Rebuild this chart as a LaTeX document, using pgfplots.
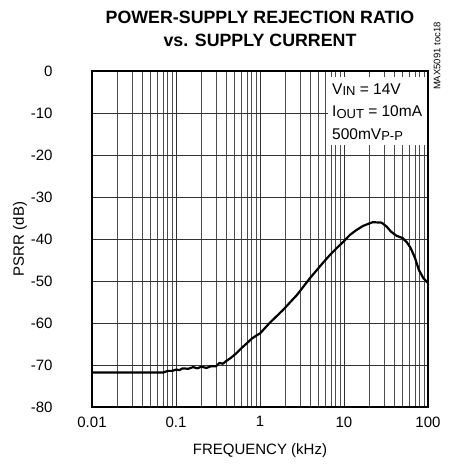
\documentclass[border=0pt]{standalone}
\usepackage{pgfplots}
\pgfplotsset{compat=1.18}
\usepackage{fontspec}
\setmainfont{Liberation Sans}
\begin{document}
\begin{tikzpicture}[x=1pt,y=1pt]
\useasboundingbox (-92,-63) rectangle (356,407);
\begin{axis}[
    at={(0,0)}, anchor=south west,
    scale only axis,
    width=336pt, height=336pt,
    xmode=log,
    xmin=0.01, xmax=100,
    ymin=-80, ymax=0,
    xtick={0.01,0.1,1,10,100},
    xticklabels={0.01,0.1,1,10,100},
    ytick={0,-10,-20,-30,-40,-50,-60,-70,-80},
    yticklabels={0,-10,-20,-30,-40,-50,-60,-70,-80},
    major tick length=0pt, minor tick length=0pt,
    grid=both,
    major grid style={black!80, line width=0.9pt},
    minor grid style={black!70, line width=0.9pt},
    axis line style={line width=2pt},
    tick label style={font=\fontsize{15}{18}\selectfont},
    y tick label style={xshift=-36pt},
    x tick label style={yshift=-6pt},
    xlabel={FREQUENCY (kHz)},
    ylabel={PSRR (dB)},
    every axis x label/.style={at={(rel axis cs:0.5,-0.131)}, anchor=center, font=\fontsize{15}{18}\selectfont},
    every axis y label/.style={at={(rel axis cs:-0.214,0.5)}, rotate=90, anchor=center, font=\fontsize{15}{18}\selectfont},
    title={POWER-SUPPLY REJECTION RATIO\\vs. SUPPLY CURRENT},
    every axis title/.style={at={(rel axis cs:0.5,1.1265)}, anchor=center, align=center, font=\bfseries\fontsize{17.8}{23}\selectfont},
    clip=false,
]
\fill[white] (axis cs:6.4,-1.5) rectangle (axis cs:100,-17.6);
\draw[black, line width=2pt] (axis cs:100,0) -- (axis cs:100,-80);
\addplot[black, line width=2.2pt, line join=round] coordinates {
(0.01,-71.8) (0.07,-71.8) (0.08,-71.4) (0.09,-71.4) (0.1,-71.1)
(0.11,-71.2) (0.12,-70.8) (0.14,-70.9) (0.16,-70.5) (0.18,-70.8) (0.2,-70.4)
(0.23,-70.7) (0.26,-70.3) (0.3,-70.3) (0.33,-69.5) (0.36,-69.7)
(0.4,-69.0) (0.45,-68.3) (0.53,-67.1) (0.6,-66.0) (0.7,-64.8)
(0.8,-63.7) (0.92,-62.9) (1.0,-62.5) (1.3,-60) (1.5,-58.8)
(1.88,-56.9) (2.3,-55) (2.76,-53.3) (3.3,-51.3) (3.94,-49.3)
(4.7,-47.5) (5.6,-45.7) (6.8,-43.8) (8.25,-42.1) (10,-40.5)
(11.8,-39) (14,-37.9) (16.8,-36.9) (20,-36.3) (22,-36.0)
(28,-36.1) (32,-37) (36.5,-38.3) (42,-39.2) (50,-39.8)
(56,-40.8) (62,-42.1) (70,-44.5) (78,-47.4) (88,-49.3) (100,-50.5)
};
\node[anchor=west, align=left, font=\fontsize{15.5}{22.5}\selectfont, inner sep=0pt]
  at (axis cs:7.2,-9.8) {V\raisebox{-1.5pt}{\fontsize{13}{13}\selectfont IN} = 14V\\
  I\raisebox{-1.5pt}{\fontsize{13}{13}\selectfont OUT} = 10mA\\
  500mV\raisebox{-1.5pt}{\fontsize{13}{13}\selectfont P-P}};
\node[rotate=90, anchor=west, font=\fontsize{9.5}{11}\selectfont, inner sep=0pt]
  at (rel axis cs:1.027,0.943) {MAX5091 toc18};
\end{axis}
\end{tikzpicture}
\end{document}
